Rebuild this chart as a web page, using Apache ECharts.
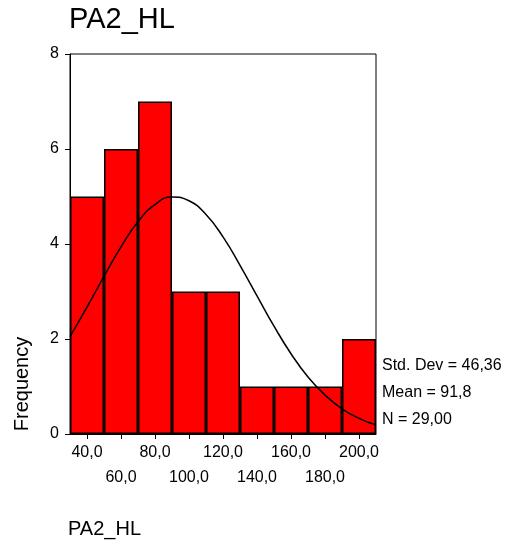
<!DOCTYPE html>
<html>
<head>
<meta charset="utf-8">
<script src="https://cdn.jsdelivr.net/npm/echarts@6/dist/echarts.min.js"></script>
<style>
  html, body { margin: 0; padding: 0; background: #fff; }
  #chart { width: 513px; height: 545px; }
</style>
</head>
<body>
<div id="chart"></div>
<script>
// ---- data ----
const binLabels = ['40,0', '60,0', '80,0', '100,0', '120,0', '140,0', '160,0', '180,0', '200,0'];
const frequencies = [5, 6, 7, 3, 3, 1, 1, 1, 2];
const yTicks = [0, 2, 4, 6, 8];
// fitted normal curve, estimated at every 10 units
const curveX = [30, 40, 50, 60, 70, 80, 90, 100, 110, 120, 130, 140, 150, 160, 170, 180, 190, 200, 210];
const curveY = [2.05, 2.67, 3.32, 3.94, 4.47, 4.83, 4.99, 4.91, 4.62, 4.15, 3.55, 2.91, 2.27, 1.69, 1.20, 0.82, 0.53, 0.33, 0.19];
const statsLines = ['Std. Dev = 46,36', 'Mean = 91,8', 'N = 29,00'];
const titleText = 'PA2_HL';
const xName = 'PA2_HL';
const yName = 'Frequency';

const FONT = '"Liberation Sans", Arial, sans-serif';
const chart = echarts.init(document.getElementById('chart'), null, { renderer: 'canvas' });

const GRID = { left: 70, top: 54, right: 137, bottom: 111 };

const option = {
  backgroundColor: '#ffffff',
  animation: false,
  textStyle: { fontFamily: FONT },
  grid: {
    left: GRID.left, top: GRID.top, right: GRID.right, bottom: GRID.bottom,
    containLabel: false, outerBoundsMode: 'none',
    show: true, borderColor: '#000', borderWidth: 1, backgroundColor: 'transparent'
  },
  xAxis: [
    {
      type: 'category',
      data: binLabels,
      boundaryGap: true,
      axisLine: { show: true, lineStyle: { color: '#000', width: 1 } },
      axisTick: { show: true, alignWithLabel: true, length: 5, lineStyle: { color: '#000' } },
      axisLabel: {
        interval: 0,
        margin: 6,
        color: '#000',
        fontSize: 16,
        fontFamily: FONT,
        lineHeight: 25,
        formatter: function (v, i) { return i % 2 === 1 ? '\n' + v : v; }
      },
      splitLine: { show: false }
    },
    {
      type: 'value',
      min: 30, max: 210,
      show: false,
      position: 'bottom'
    }
  ],
  yAxis: {
    type: 'value',
    min: yTicks[0], max: yTicks[yTicks.length - 1], interval: 2,
    axisLine: { show: true, lineStyle: { color: '#000', width: 1 } },
    axisTick: { show: true, length: 5, lineStyle: { color: '#000' } },
    axisLabel: { color: '#000', fontSize: 16, fontFamily: FONT, margin: 11 },
    splitLine: { show: false }
  },
  series: [
    {
      type: 'bar',
      xAxisIndex: 0,
      data: frequencies,
      barCategoryGap: '0%',
      itemStyle: { color: '#ff0000', borderColor: '#000', borderWidth: 1.5 },
      z: 2
    },
    {
      type: 'line',
      xAxisIndex: 1,
      data: curveX.map((x, i) => [x, curveY[i]]),
      smooth: true,
      symbol: 'none',
      lineStyle: { color: '#000', width: 1.5 },
      z: 3
    }
  ],
  graphic: [
    { type: 'text', left: 69, top: 5, style: { text: titleText, font: '29px ' + FONT, fill: '#000' } },
    { type: 'text', x: 22, y: 384, rotation: Math.PI / 2,
      style: { text: yName, font: '20px ' + FONT, fill: '#000', align: 'center', verticalAlign: 'middle' } },
    { type: 'text', x: 68, y: 529,
      style: { text: xName, font: '20px ' + FONT, fill: '#000', align: 'left', verticalAlign: 'middle' } }
  ].concat(statsLines.map((t, i) => ({
    type: 'text', x: 382, y: 366 + i * 27,
    style: { text: t, font: '16px ' + FONT, fill: '#000', align: 'left', verticalAlign: 'middle' }
  })))
};

chart.setOption(option);
</script>
</body>
</html>
